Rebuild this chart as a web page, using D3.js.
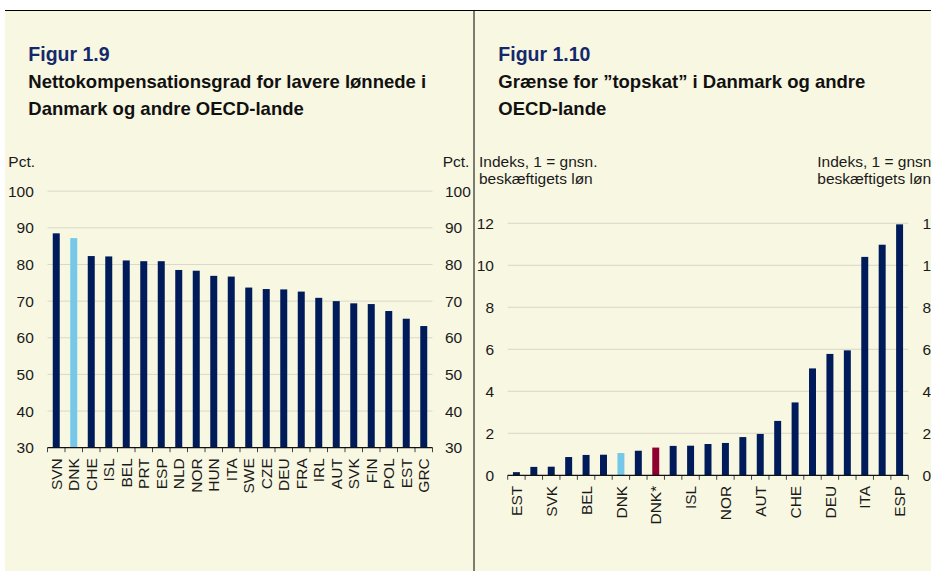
<!DOCTYPE html>
<html>
<head>
<meta charset="utf-8">
<script src="https://cdn.jsdelivr.net/npm/d3@7"></script>
<style>
  html, body { margin: 0; padding: 0; background: #ffffff; }
  svg { display: block; font-family: "Liberation Sans", Arial, sans-serif; }
</style>
</head>
<body>
<svg id="chart" width="931" height="571"></svg>
<script>
// ---------- Data: Figur 1.9 ----------
const leftCategories = ["SVN","DNK","CHE","ISL","BEL","PRT","ESP","NLD","NOR","HUN","ITA","SWE","CZE","DEU","FRA","IRL","AUT","SVK","FIN","POL","EST","GRC"];
const leftValues = [88.5,87.2,82.3,82.2,81.1,80.9,80.9,78.5,78.3,76.9,76.7,73.7,73.3,73.2,72.6,70.9,70.0,69.4,69.2,67.3,65.2,63.2];
const leftTicks = [30,40,50,60,70,80,90,100];
const leftHighlight = ["DNK"];

// ---------- Data: Figur 1.10 ----------
const rightCategories = ["EST","CZE","SVK","HUN","BEL","POL","DNK","NLD","DNK*","SWE","ISL","FIN","NOR","GBR","AUT","FRA","CHE","IRL","DEU","PRT","ITA","GRC","ESP"];
const rightValues = [0.15,0.40,0.41,0.87,0.97,0.98,1.06,1.17,1.32,1.40,1.41,1.49,1.54,1.82,1.97,2.59,3.47,5.09,5.78,5.95,10.40,10.98,11.95];
const rightShownLabels = ["EST","SVK","BEL","DNK","DNK*","ISL","NOR","AUT","CHE","DEU","ITA","ESP"];
const rightTicks = [0,2,4,6,8,10,12];

const NAVY = "#001b5a", LIGHT = "#76c8e9", RED = "#8e0030";
const BG = "#f8f7e2", GRID = "#d9d8ca", TXT = "#1a1a1a";

const svg = d3.select("#chart");

// background + frame lines
svg.append("rect").attr("x", 5).attr("y", 10).attr("width", 926).attr("height", 561).attr("fill", BG);
svg.append("line").attr("x1", 5).attr("x2", 931).attr("y1", 10.5).attr("y2", 10.5).attr("stroke", "#000").attr("stroke-width", 1);
svg.append("line").attr("x1", 474).attr("x2", 474).attr("y1", 10).attr("y2", 571).attr("stroke", "#000").attr("stroke-width", 1);

function titles(x, fig, lines) {
  svg.append("text").attr("x", x).attr("y", 61).attr("font-size", 19.5).attr("font-weight", "bold")
    .attr("fill", "#14296b").text(fig);
  lines.forEach((l, i) => {
    svg.append("text").attr("x", x).attr("y", 88.3 + i * 26.8).attr("font-size", 18.5)
      .attr("font-weight", "bold").attr("fill", "#111").text(l);
  });
}

function drawChart(opts) {
  const {cats, vals, ticks, yDomain, yRange, xRange, colorOf, labelFilter, leftLabelX, rightLabelX, fmt} = opts;
  const g = svg.append("g");
  const y = d3.scaleLinear().domain(yDomain).range(yRange);
  const x = d3.scaleBand().domain(cats).range(xRange).paddingInner(0.6).paddingOuter(0.3);
  const step = x.step();
  const gap = step - x.bandwidth();

  // gridlines
  g.selectAll(".grid").data(ticks.filter(t => t !== yDomain[0])).join("line")
    .attr("x1", xRange[0]).attr("x2", xRange[1])
    .attr("y1", d => y(d)).attr("y2", d => y(d))
    .attr("stroke", GRID).attr("stroke-width", 1);

  // bars
  g.selectAll(".bar").data(cats).join("rect")
    .attr("x", d => x(d)).attr("width", x.bandwidth())
    .attr("y", (d, i) => y(vals[i]))
    .attr("height", (d, i) => y(yDomain[0]) - y(vals[i]))
    .attr("fill", d => colorOf(d));

  // left y labels
  const ya = d3.axisLeft(y).tickValues(ticks).tickSize(0).tickPadding(0).tickFormat(fmt);
  const yl = g.append("g").attr("transform", `translate(${leftLabelX},0)`).call(ya);
  yl.select(".domain").remove();
  yl.selectAll("text").attr("font-size", 15.5).attr("fill", TXT).attr("font-family", "Liberation Sans, Arial, sans-serif");

  const yb = d3.axisRight(y).tickValues(ticks).tickSize(0).tickPadding(0).tickFormat(fmt);
  const yr = g.append("g").attr("transform", `translate(${rightLabelX},0)`).call(yb);
  yr.select(".domain").remove();
  yr.selectAll("text").attr("font-size", 15.5).attr("fill", TXT).attr("font-family", "Liberation Sans, Arial, sans-serif");

  // x axis labels
  const base = y(yDomain[0]);
  const xa = d3.axisBottom(x).tickSize(0).tickFormat(d => labelFilter(d) ? d : "");
  const xl = g.append("g").attr("transform", `translate(0,${base})`).call(xa);
  xl.select(".domain").remove();
  xl.selectAll("text")
    .attr("font-size", 15.5).attr("fill", TXT).attr("font-family", "Liberation Sans, Arial, sans-serif")
    .attr("transform", "rotate(-90)").attr("text-anchor", "end")
    .attr("x", -10.5).attr("y", 0).attr("dy", "0.36em");

  // boundary tick marks
  const bounds = cats.map(d => x(d) - gap / 2).concat([x(cats[cats.length - 1]) + x.bandwidth() + gap / 2]);
  g.selectAll(".tk").data(bounds).join("line")
    .attr("x1", d => d).attr("x2", d => d).attr("y1", base).attr("y2", base + 4.5)
    .attr("stroke", "#444").attr("stroke-width", 1);
  // axis baseline
  g.append("line").attr("x1", xRange[0]).attr("x2", xRange[1]).attr("y1", base).attr("y2", base)
    .attr("stroke", "#111").attr("stroke-width", 1.3);
}

// ----- Figur 1.9 -----
titles(28.3, "Figur 1.9", ["Nettokompensationsgrad for lavere lønnede i", "Danmark og andre OECD-lande"]);
svg.append("text").attr("x", 8.3).attr("y", 166.7).attr("font-size", 15.5).attr("fill", TXT).text("Pct.");
svg.append("text").attr("x", 442.7).attr("y", 166.7).attr("font-size", 15.5).attr("fill", TXT).text("Pct.");
drawChart({
  cats: leftCategories, vals: leftValues, ticks: leftTicks,
  yDomain: [30, 100], yRange: [447.7, 191.2], xRange: [47.5, 432.5],
  colorOf: d => leftHighlight.includes(d) ? LIGHT : NAVY,
  labelFilter: () => true, leftLabelX: 33.8, rightLabelX: 445, fmt: d3.format("d")
});

// ----- Figur 1.10 -----
titles(498.3, "Figur 1.10", ["Grænse for ”topskat” i Danmark og andre", "OECD-lande"]);
[[479, "start"], [817.3, "start"]].forEach(([xx]) => {
  svg.append("text").attr("x", xx).attr("y", 166.7).attr("font-size", 15.5).attr("fill", TXT).text("Indeks, 1 = gnsn.");
  svg.append("text").attr("x", xx).attr("y", 184.3).attr("font-size", 15.5).attr("fill", TXT).text("beskæftigets løn");
});
drawChart({
  cats: rightCategories, vals: rightValues, ticks: rightTicks,
  yDomain: [0, 12], yRange: [475.3, 223.3], xRange: [507.7, 908.3],
  colorOf: d => d === "DNK" ? LIGHT : (d === "DNK*" ? RED : NAVY),
  labelFilter: d => rightShownLabels.includes(d), leftLabelX: 494, rightLabelX: 922.5, fmt: d3.format("d")
});
</script>
</body>
</html>
